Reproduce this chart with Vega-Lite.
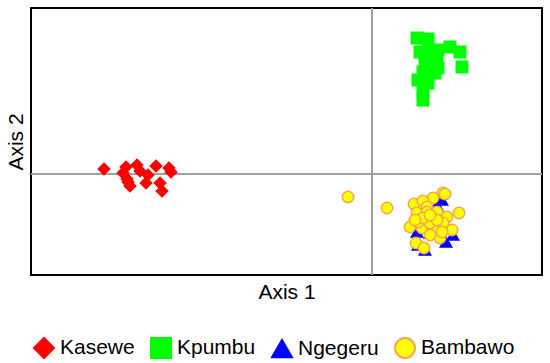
{
  "$schema": "https://vega.github.io/schema/vega-lite/v6.json",
  "autosize": "none",
  "width": 511,
  "height": 267,
  "padding": {"left": 31, "top": 8, "right": 8, "bottom": 88},
  "background": "white",
  "config": {
    "view": {"stroke": "black", "strokeWidth": 2},
    "axis": {"domain": false, "ticks": false, "labels": false, "grid": false,
      "titleFont": "Liberation Sans", "titleFontSize": 21, "titleFontWeight": "normal", "titleColor": "black"}
  },
  "data": {"values": [
    {"group": "Kasewe", "x": -2.68, "y": 0.05},
    {"group": "Kasewe", "x": -2.46, "y": 0.07},
    {"group": "Kasewe", "x": -2.35, "y": 0.09},
    {"group": "Kasewe", "x": -2.32, "y": 0.03},
    {"group": "Kasewe", "x": -2.49, "y": 0.01},
    {"group": "Kasewe", "x": -2.45, "y": -0.05},
    {"group": "Kasewe", "x": -2.42, "y": -0.12},
    {"group": "Kasewe", "x": -2.24, "y": -0.01},
    {"group": "Kasewe", "x": -2.26, "y": -0.09},
    {"group": "Kasewe", "x": -2.16, "y": 0.08},
    {"group": "Kasewe", "x": -2.03, "y": 0.06},
    {"group": "Kasewe", "x": -2.01, "y": 0.02},
    {"group": "Kasewe", "x": -2.12, "y": -0.09},
    {"group": "Kasewe", "x": -2.10, "y": -0.17},
    {"group": "Kasewe", "x": -2.44, "y": -0.08},
    {"group": "Kpumbu", "x": 0.45, "y": 1.36},
    {"group": "Kpumbu", "x": 0.56, "y": 1.35},
    {"group": "Kpumbu", "x": 0.48, "y": 1.22},
    {"group": "Kpumbu", "x": 0.58, "y": 1.24},
    {"group": "Kpumbu", "x": 0.66, "y": 1.24},
    {"group": "Kpumbu", "x": 0.78, "y": 1.27},
    {"group": "Kpumbu", "x": 0.88, "y": 1.22},
    {"group": "Kpumbu", "x": 0.53, "y": 1.12},
    {"group": "Kpumbu", "x": 0.65, "y": 1.16},
    {"group": "Kpumbu", "x": 0.66, "y": 1.06},
    {"group": "Kpumbu", "x": 0.90, "y": 1.07},
    {"group": "Kpumbu", "x": 0.46, "y": 0.94},
    {"group": "Kpumbu", "x": 0.56, "y": 0.91},
    {"group": "Kpumbu", "x": 0.51, "y": 0.82},
    {"group": "Kpumbu", "x": 0.51, "y": 0.74},
    {"group": "Kpumbu", "x": 0.63, "y": 1.01},
    {"group": "Kpumbu", "x": 0.51, "y": 1.02},
    {"group": "Kpumbu", "x": 0.55, "y": 1.19},
    {"group": "Ngegeru", "x": 0.45, "y": -0.58},
    {"group": "Ngegeru", "x": 0.58, "y": -0.59},
    {"group": "Ngegeru", "x": 0.74, "y": -0.68},
    {"group": "Ngegeru", "x": 0.81, "y": -0.61},
    {"group": "Ngegeru", "x": 0.53, "y": -0.76},
    {"group": "Ngegeru", "x": 0.70, "y": -0.26},
    {"group": "Ngegeru", "x": 0.65, "y": -0.31},
    {"group": "Ngegeru", "x": 0.46, "y": -0.71},
    {"group": "Ngegeru", "x": 0.75, "y": -0.53},
    {"group": "Bambawo", "x": -0.24, "y": -0.23},
    {"group": "Bambawo", "x": 0.15, "y": -0.34},
    {"group": "Bambawo", "x": 0.87, "y": -0.39},
    {"group": "Bambawo", "x": 0.71, "y": -0.19},
    {"group": "Bambawo", "x": 0.73, "y": -0.20},
    {"group": "Bambawo", "x": 0.61, "y": -0.24},
    {"group": "Bambawo", "x": 0.42, "y": -0.30},
    {"group": "Bambawo", "x": 0.51, "y": -0.27},
    {"group": "Bambawo", "x": 0.55, "y": -0.33},
    {"group": "Bambawo", "x": 0.65, "y": -0.38},
    {"group": "Bambawo", "x": 0.45, "y": -0.39},
    {"group": "Bambawo", "x": 0.55, "y": -0.38},
    {"group": "Bambawo", "x": 0.75, "y": -0.43},
    {"group": "Bambawo", "x": 0.38, "y": -0.53},
    {"group": "Bambawo", "x": 0.50, "y": -0.54},
    {"group": "Bambawo", "x": 0.61, "y": -0.56},
    {"group": "Bambawo", "x": 0.80, "y": -0.56},
    {"group": "Bambawo", "x": 0.68, "y": -0.64},
    {"group": "Bambawo", "x": 0.44, "y": -0.69},
    {"group": "Bambawo", "x": 0.52, "y": -0.74},
    {"group": "Bambawo", "x": 0.58, "y": -0.49},
    {"group": "Bambawo", "x": 0.46, "y": -0.48},
    {"group": "Bambawo", "x": 0.71, "y": -0.49},
    {"group": "Bambawo", "x": 0.65, "y": -0.46},
    {"group": "Bambawo", "x": 0.51, "y": -0.44},
    {"group": "Bambawo", "x": 0.58, "y": -0.41},
    {"group": "Bambawo", "x": 0.43, "y": -0.46},
    {"group": "Bambawo", "x": 0.70, "y": -0.58},
    {"group": "Bambawo", "x": 0.58, "y": -0.61}
  ]},
  "layer": [
    {
      "mark": {"type": "rule", "color": "#a0a0a0", "strokeWidth": 1.5},
      "encoding": {"x": {"datum": 0, "type": "quantitative"}}
    },
    {
      "mark": {"type": "rule", "color": "#a0a0a0", "strokeWidth": 1.5},
      "encoding": {"y": {"datum": 0, "type": "quantitative"}}
    },
    {
      "mark": {"type": "point", "filled": true, "size": 130, "strokeWidth": 1.5, "opacity": 1},
      "encoding": {
        "x": {"field": "x", "type": "quantitative", "title": "Axis 1",
          "scale": {"domain": [-3.41, 1.70], "nice": false, "zero": false},
          "axis": {"titlePadding": 6}},
        "y": {"field": "y", "type": "quantitative", "title": "Axis 2",
          "scale": {"domain": [-1.01, 1.66], "nice": false, "zero": false},
          "axis": {"titlePadding": 5}},
        "fill": {"field": "group", "type": "nominal",
          "scale": {"domain": ["Kasewe", "Kpumbu", "Ngegeru", "Bambawo"], "range": ["#ff0000", "#00ff00", "#0000ff", "#ffff00"]},
          "legend": {"title": null, "orient": "none", "direction": "horizontal", "legendX": 2, "legendY": 329,
            "symbolSize": 400, "symbolStrokeWidth": 2, "labelFont": "Liberation Sans", "labelFontSize": 21,
            "labelColor": "black", "labelOffset": 5, "columnPadding": 12, "padding": 0}},
        "stroke": {"field": "group", "type": "nominal",
          "scale": {"domain": ["Kasewe", "Kpumbu", "Ngegeru", "Bambawo"], "range": ["#ff0000", "#00ff00", "#0000ff", "#f5a54a"]}},
        "shape": {"field": "group", "type": "nominal",
          "scale": {"domain": ["Kasewe", "Kpumbu", "Ngegeru", "Bambawo"], "range": ["diamond", "square", "triangle-up", "circle"]}}
      }
    }
  ]
}
